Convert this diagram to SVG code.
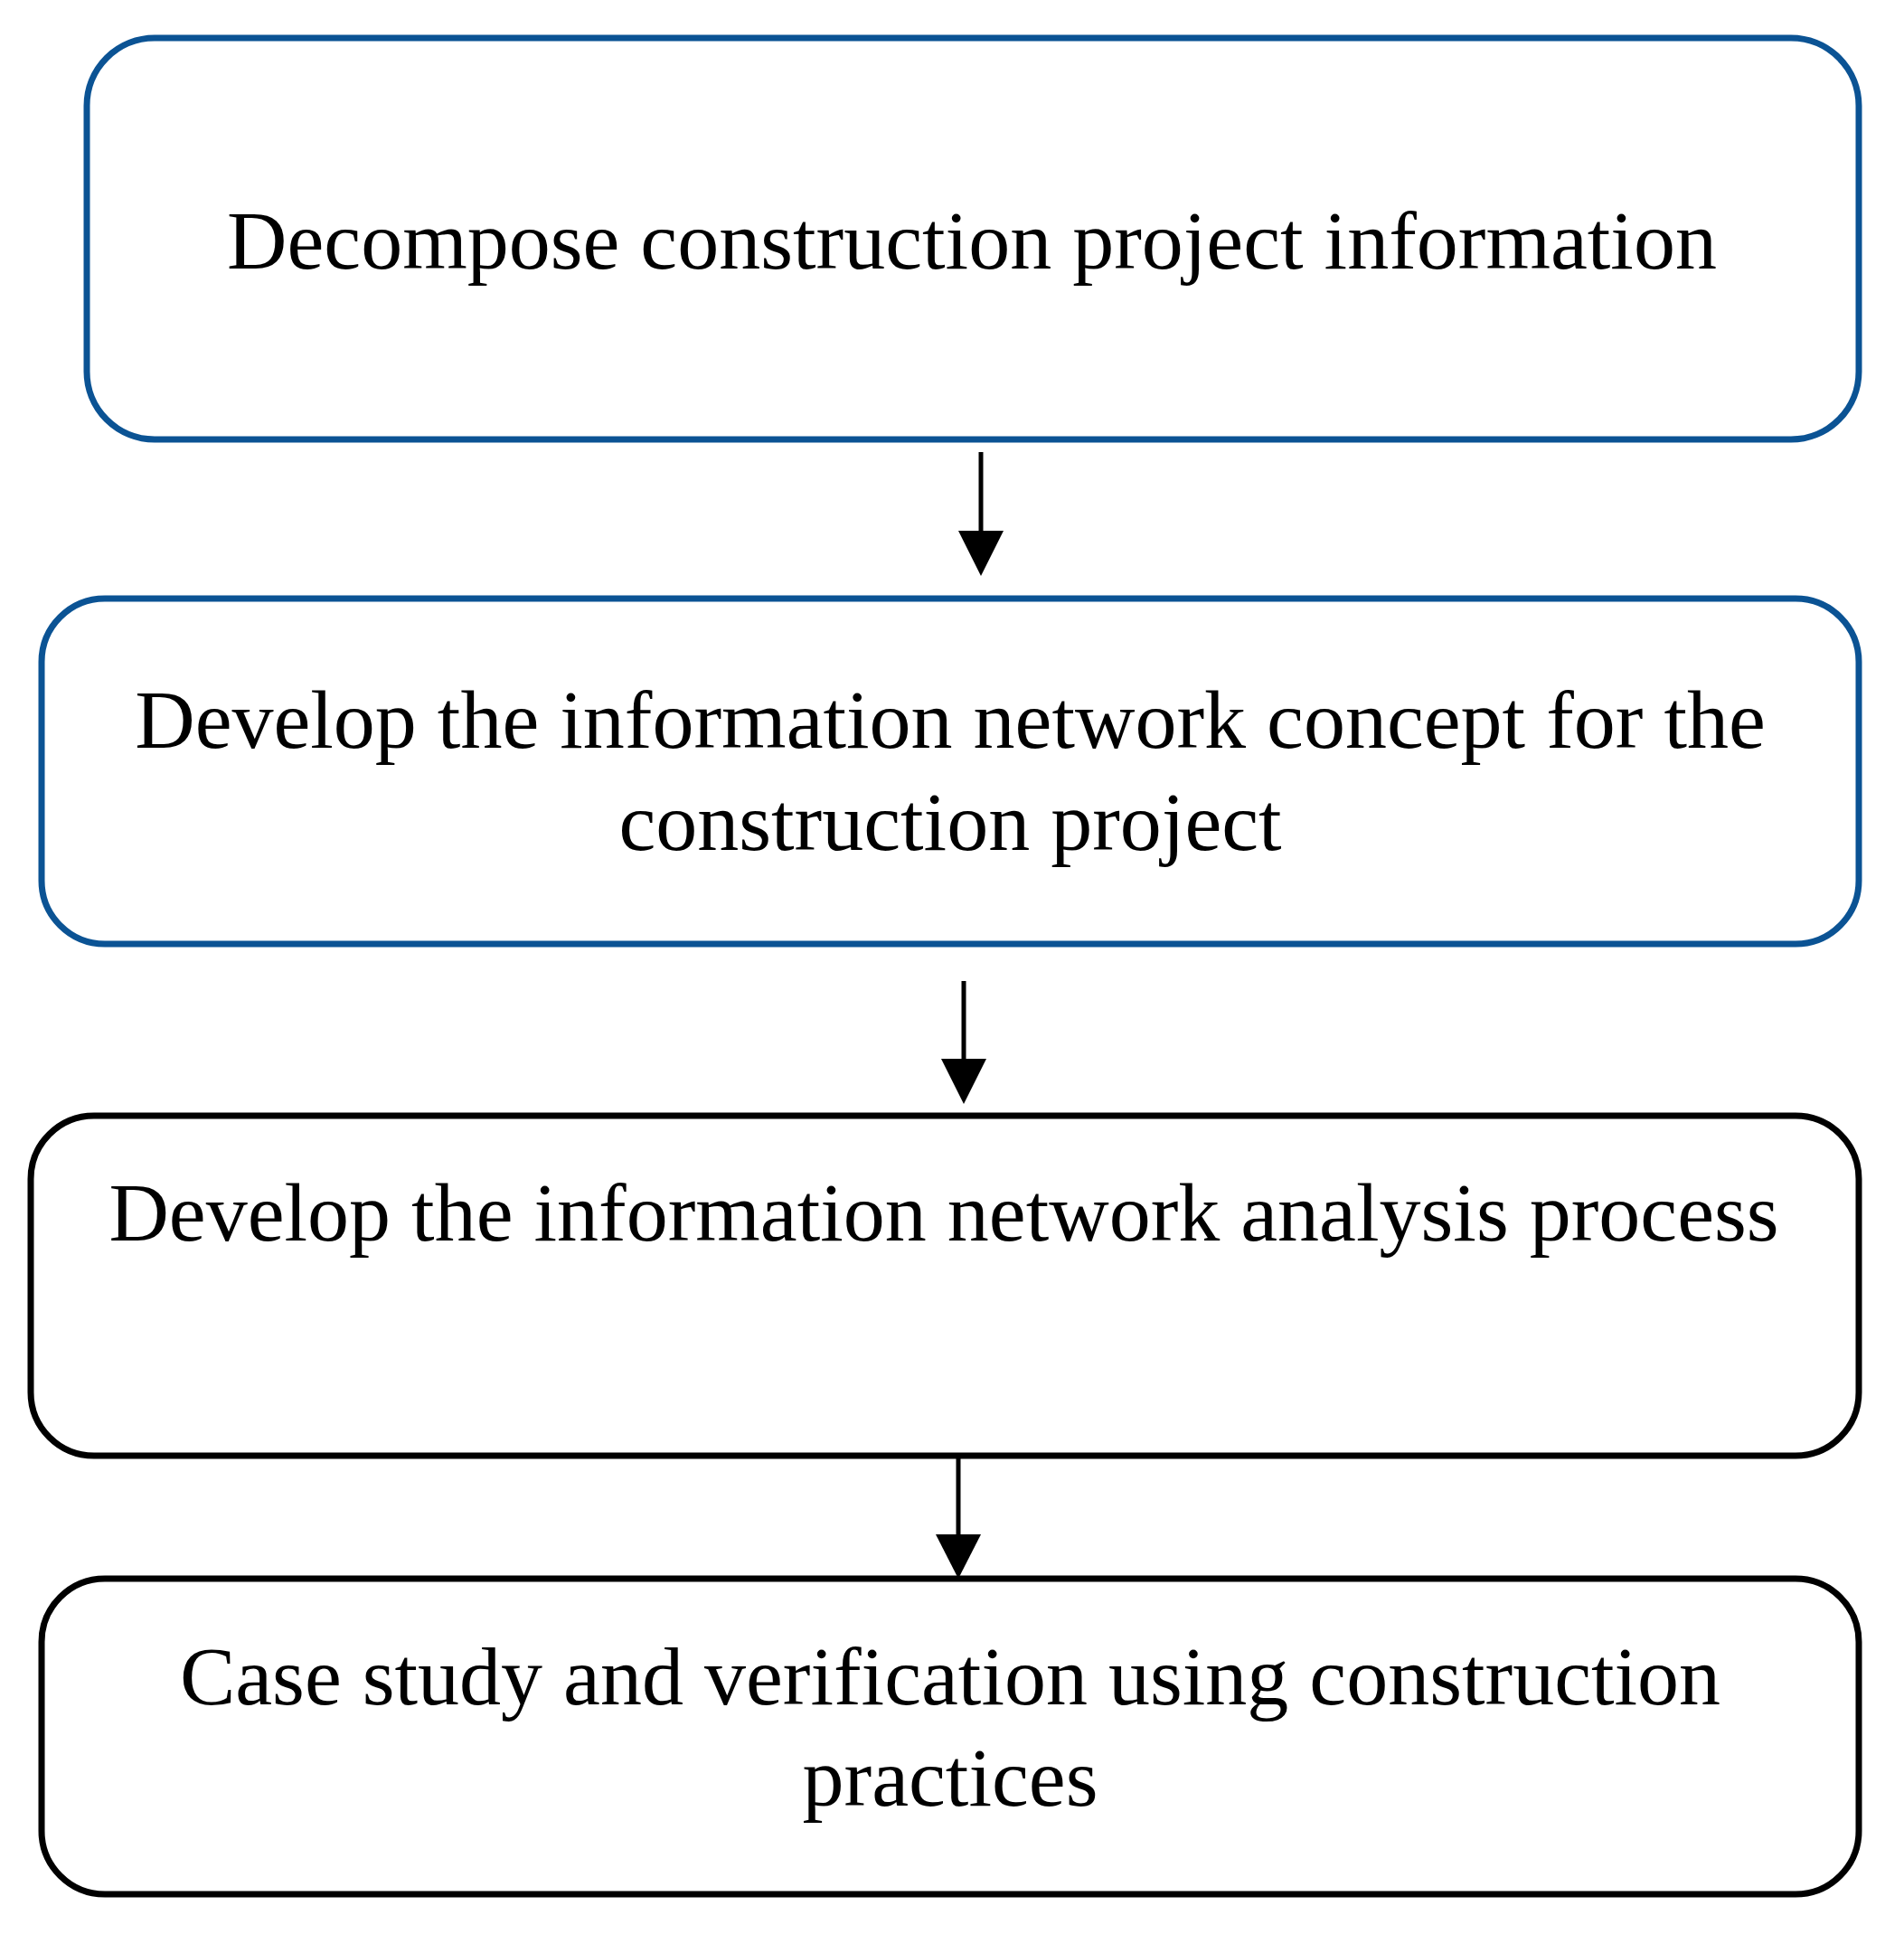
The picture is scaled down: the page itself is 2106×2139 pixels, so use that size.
<svg xmlns="http://www.w3.org/2000/svg" width="2106" height="2139" viewBox="0 0 2106 2139">
<style>
.b{fill:#fff;stroke-width:7}
.blue{stroke:#0b5394}
.blk{stroke:#000}
text{font-family:"Liberation Serif",serif;font-size:92px;fill:#000;text-anchor:middle}
.c{stroke:#000;stroke-width:5;fill:none}
</style>
<rect width="2106" height="2139" fill="#fff"/>
<g id="n1"><rect class="b blue" x="96" y="42" width="1960" height="444" rx="75"/><text x="1075" y="297">Decompose construction project information</text></g>
<g id="n2"><rect class="b blue" x="46" y="662" width="2010" height="382" rx="70"/><text x="1051" y="827">Develop the information network concept for the</text><text x="1051" y="940">construction project</text></g>
<g id="n3"><rect class="b blk" x="34" y="1234" width="2022" height="376" rx="70"/><text x="1044" y="1372">Develop the information network analysis process</text></g>
<g id="n4"><rect class="b blk" x="46" y="1746" width="2010" height="349" rx="70"/><text x="1051" y="1885">Case study and verification using construction</text><text x="1051" y="1997">practices</text></g>
<g id="connectors">
<line class="c" x1="1085" y1="500" x2="1085" y2="600"/><path d="M1060,587L1110,587L1085,637z"/>
<line class="c" x1="1066" y1="1085" x2="1066" y2="1185"/><path d="M1041,1171L1091,1171L1066,1221z"/>
<line class="c" x1="1060" y1="1613" x2="1060" y2="1710"/><path d="M1035,1697L1085,1697L1060,1746z"/>
</g>
</svg>
